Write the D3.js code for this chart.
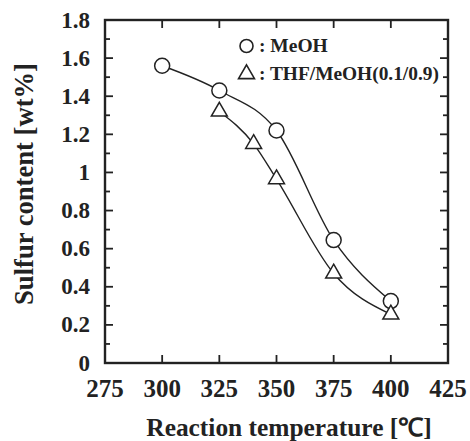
<!DOCTYPE html>
<html><head><meta charset="utf-8">
<script src="https://cdn.jsdelivr.net/npm/d3@7"></script>
<style>body{margin:0;background:#fff}</style>
</head><body>
<svg id="c" width="470" height="441"></svg>
<script>
const meohTemp = [300, 325, 350, 375, 400];
const meohS = [1.56, 1.43, 1.22, 0.645, 0.325];
const thfTemp = [325, 340, 350, 375, 400];
const thfS = [1.32, 1.15, 0.965, 0.47, 0.255];
const xTicks = [275, 300, 325, 350, 375, 400, 425];
const yTicks = [0, 0.2, 0.4, 0.6, 0.8, 1, 1.2, 1.4, 1.6, 1.8];
const yMinor = [0.1, 0.3, 0.5, 0.7, 0.9, 1.1, 1.3, 1.5, 1.7];
const legendLabels = ["MeOH", "THF/MeOH(0.1/0.9)"];

const svg = d3.select("#c");
const L = 105, T = 20, W = 343, H = 343;
const x = d3.scaleLinear().domain([275, 425]).range([L, L + W]);
const y = d3.scaleLinear().domain([0, 1.8]).range([T + H, T]);
const font = "'Liberation Serif','Times New Roman',serif";
const ink = "#222";

function fit(sel, target) {
  const n = sel.node();
  const s0 = 20;
  sel.attr("font-size", s0);
  const w = n.getComputedTextLength();
  sel.attr("font-size", s0 * target / w);
}

// ticks
const g = svg.append("g").attr("stroke", ink).attr("stroke-width", 1.8);
const inner = xTicks.slice(1, -1);
inner.forEach(v => {
  g.append("line").attr("x1", x(v)).attr("x2", x(v)).attr("y1", T + H).attr("y2", T + H - 8);
  g.append("line").attr("x1", x(v)).attr("x2", x(v)).attr("y1", T).attr("y2", T + 8);
});
yTicks.forEach(v => {
  g.append("line").attr("x1", L).attr("x2", L + 8).attr("y1", y(v)).attr("y2", y(v));
  g.append("line").attr("x1", L + W).attr("x2", L + W - 8).attr("y1", y(v)).attr("y2", y(v));
});
yMinor.forEach(v => {
  g.append("line").attr("x1", L).attr("x2", L + 5).attr("y1", y(v)).attr("y2", y(v));
  g.append("line").attr("x1", L + W).attr("x2", L + W - 5).attr("y1", y(v)).attr("y2", y(v));
});
svg.append("rect").attr("x", L).attr("y", T).attr("width", W).attr("height", H)
  .attr("fill", "none").attr("stroke", ink).attr("stroke-width", 2.4);

// tick labels
const probe = svg.append("text").attr("font-family", font).attr("font-weight", "bold").text("275");
fit(probe, 37.5);
const tickSize = +probe.attr("font-size");
probe.remove();

svg.append("g").selectAll("text").data(xTicks).join("text")
  .attr("x", d => x(d)).attr("y", 397).attr("text-anchor", "middle")
  .attr("font-family", font).attr("font-weight", "bold").attr("font-size", tickSize).attr("fill", ink)
  .text(d => d);
svg.append("g").selectAll("text").data(yTicks).join("text")
  .attr("x", 90).attr("y", d => y(d) + 7.5).attr("text-anchor", "end")
  .attr("font-family", font).attr("font-weight", "bold").attr("font-size", tickSize * 0.92).attr("fill", ink)
  .text(d => d3.format("")(d));

// axis titles
const xt = svg.append("text").attr("x", 289).attr("y", 436).attr("text-anchor", "middle")
  .attr("font-family", font).attr("font-weight", "bold").attr("fill", ink)
  .text("Reaction temperature [℃]");
fit(xt, 286);
const yt = svg.append("text").attr("transform", "translate(33,184) rotate(-90)").attr("text-anchor", "middle")
  .attr("font-family", font).attr("font-weight", "bold").attr("fill", ink)
  .text("Sulfur content [wt%]");
fit(yt, 242);

// curves
const line = d3.line().x(d => x(d[0])).y(d => y(d[1])).curve(d3.curveMonotoneX);
const meoh = meohTemp.map((t, i) => [t, meohS[i]]);
const thf = thfTemp.map((t, i) => [t, thfS[i]]);
[meoh, thf].forEach(data => {
  svg.append("path").datum(data).attr("d", line).attr("fill", "none")
    .attr("stroke", ink).attr("stroke-width", 1.4);
});

const tri = d3.symbol().type(d3.symbolTriangle).size(110);
svg.append("g").selectAll("circle").data(meoh).join("circle")
  .attr("cx", d => x(d[0])).attr("cy", d => y(d[1])).attr("r", 7.5)
  .attr("fill", "#fff").attr("stroke", ink).attr("stroke-width", 1.5);
svg.append("g").selectAll("path").data(thf).join("path")
  .attr("transform", d => `translate(${x(d[0])},${y(d[1])})`).attr("d", tri)
  .attr("fill", "#fff").attr("stroke", ink).attr("stroke-width", 1.5);

// legend
svg.append("circle").attr("cx", 246.5).attr("cy", 46).attr("r", 6.5)
  .attr("fill", "#fff").attr("stroke", ink).attr("stroke-width", 1.6);
svg.append("path").attr("transform", "translate(246.5,74)").attr("d", tri)
  .attr("fill", "#fff").attr("stroke", ink).attr("stroke-width", 1.6);
legendLabels.forEach((t, i) => {
  const lt = svg.append("text").attr("x", 259).attr("y", 52 + i * 28)
    .attr("font-family", font).attr("font-weight", "bold").attr("fill", ink)
    .text(": " + t);
  if (i === 1) fit(lt, 180);
  else lt.attr("font-size", 19.5);
});
</script>
</body></html>
